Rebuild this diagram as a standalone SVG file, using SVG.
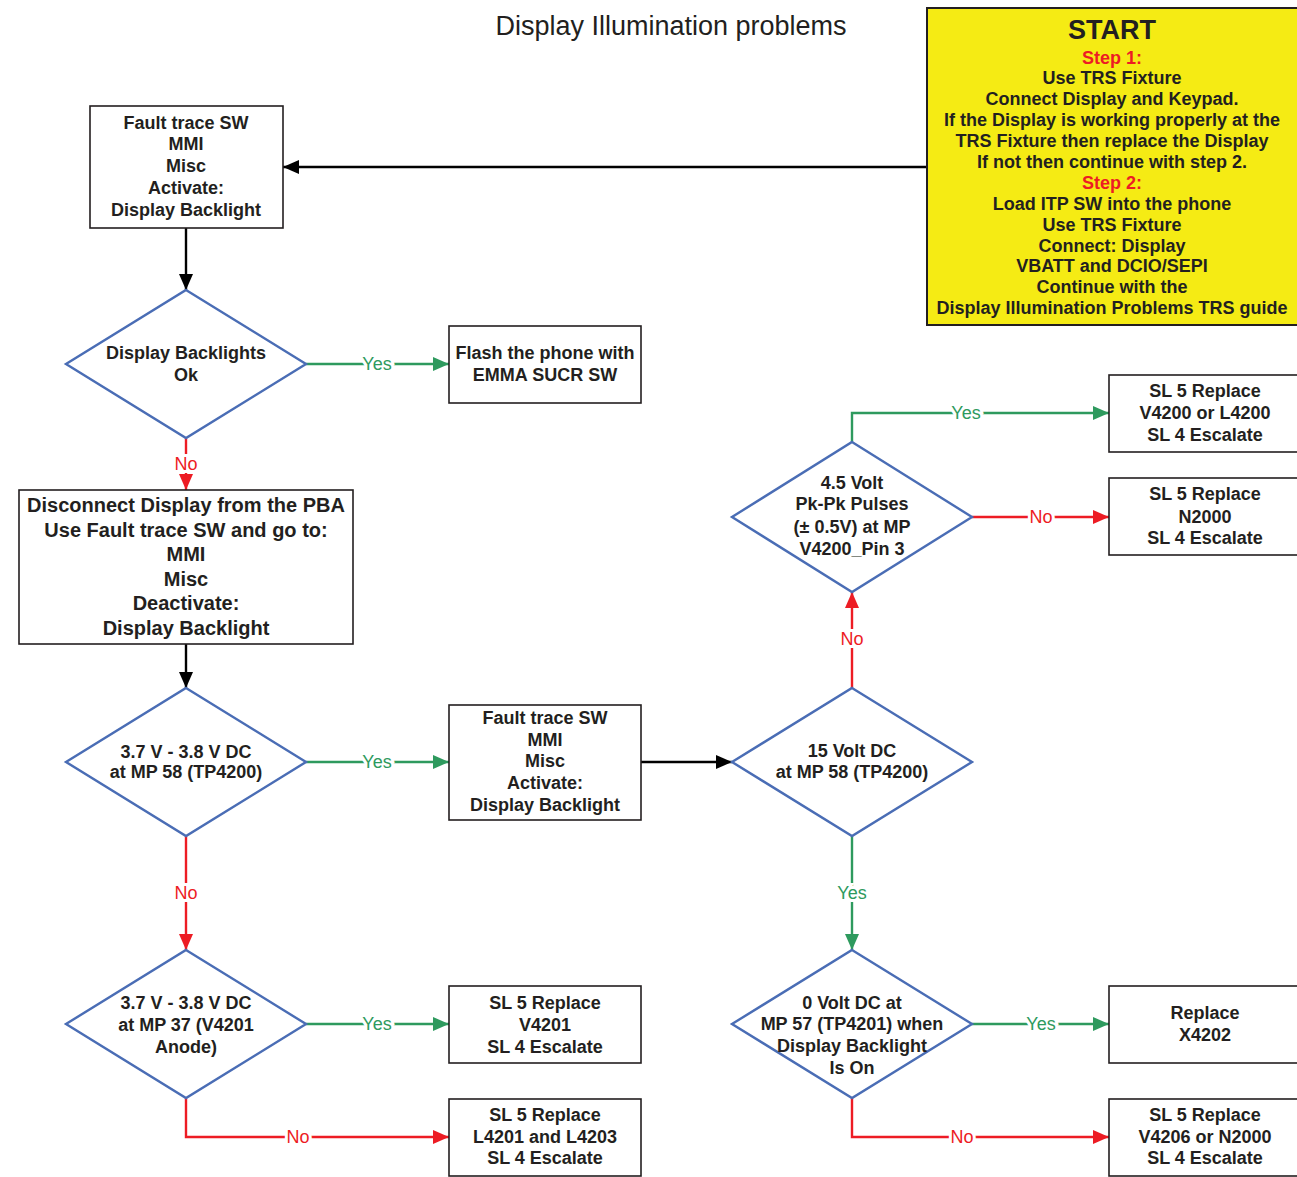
<svg xmlns="http://www.w3.org/2000/svg" width="1297" height="1177" viewBox="0 0 1297 1177">
<style>
text{font-family:"Liberation Sans",Arial,sans-serif;fill:#231f20;text-anchor:middle}
.t{font-size:18px;font-weight:bold}
.big{font-size:20px;font-weight:bold}
.box{fill:#fff;stroke:#231f20;stroke-width:1.6}
.dia{fill:#fff;stroke:#4a6db5;stroke-width:2.4}
.lk{fill:none;stroke:#000;stroke-width:2.4}
.lg{fill:none;stroke:#2e9a5e;stroke-width:2.4}
.lr{fill:none;stroke:#ed1c24;stroke-width:2.4}
.lbg{font-size:18px;fill:#2e9a5e;stroke:#fff;stroke-width:6;paint-order:stroke}
.lbr{font-size:18px;fill:#ed1c24;stroke:#fff;stroke-width:6;paint-order:stroke}
.red{fill:#ed1c24}
</style>
<defs>
<marker id="ak" viewBox="0 0 16 14" refX="16" refY="7" markerWidth="16" markerHeight="14" markerUnits="userSpaceOnUse" orient="auto"><path d="M0,0L16,7L0,14z" fill="#000"/></marker>
<marker id="ag" viewBox="0 0 16 14" refX="16" refY="7" markerWidth="16" markerHeight="14" markerUnits="userSpaceOnUse" orient="auto"><path d="M0,0L16,7L0,14z" fill="#2e9a5e"/></marker>
<marker id="ar" viewBox="0 0 16 14" refX="16" refY="7" markerWidth="16" markerHeight="14" markerUnits="userSpaceOnUse" orient="auto"><path d="M0,0L16,7L0,14z" fill="#ed1c24"/></marker>
</defs>
<rect width="1297" height="1177" fill="#fff"/>
<text x="671" y="35" style="font-size:27px">Display Illumination problems</text>

<g id="connectors">
<path class="lk" d="M927,167H283" marker-end="url(#ak)"/>
<path class="lk" d="M186,228V290" marker-end="url(#ak)"/>
<path class="lg" d="M306,364H449" marker-end="url(#ag)"/>
<path class="lr" d="M186,438V490" marker-end="url(#ar)"/>
<path class="lk" d="M186,644V688" marker-end="url(#ak)"/>
<path class="lg" d="M306,762H449" marker-end="url(#ag)"/>
<path class="lk" d="M641,762H732" marker-end="url(#ak)"/>
<path class="lr" d="M186,836V950" marker-end="url(#ar)"/>
<path class="lg" d="M306,1024H449" marker-end="url(#ag)"/>
<path class="lr" d="M186,1098V1137H449" marker-end="url(#ar)"/>
<path class="lr" d="M852,688V592" marker-end="url(#ar)"/>
<path class="lg" d="M852,442V413H1109" marker-end="url(#ag)"/>
<path class="lr" d="M972,517H1109" marker-end="url(#ar)"/>
<path class="lg" d="M852,836V950" marker-end="url(#ag)"/>
<path class="lg" d="M972,1024H1109" marker-end="url(#ag)"/>
<path class="lr" d="M852,1098V1137H1109" marker-end="url(#ar)"/>
<text class="lbg" x="377" y="370">Yes</text>
<text class="lbr" x="186" y="470">No</text>
<text class="lbg" x="377" y="768">Yes</text>
<text class="lbr" x="186" y="899">No</text>
<text class="lbg" x="377" y="1030">Yes</text>
<text class="lbr" x="298" y="1143">No</text>
<text class="lbr" x="852" y="645">No</text>
<text class="lbg" x="966" y="419">Yes</text>
<text class="lbr" x="1041" y="523">No</text>
<text class="lbg" x="852" y="899">Yes</text>
<text class="lbg" x="1041" y="1030">Yes</text>
<text class="lbr" x="962" y="1143">No</text>
</g>

<g id="start">
<rect x="927" y="8" width="372" height="317" fill="#f5eb14" stroke="#231f20" stroke-width="2"/>
<text x="1112" y="39" style="font-size:27px;font-weight:bold">START</text>
<text class="t" x="1112" y="63.5"><tspan class="red">Step 1:</tspan></text>
<text class="t" x="1112" y="84">Use TRS Fixture</text>
<text class="t" x="1112" y="105">Connect Display and Keypad.</text>
<text class="t" x="1112" y="126">If the Display is working properly at the</text>
<text class="t" x="1112" y="147">TRS Fixture then replace the Display</text>
<text class="t" x="1112" y="168">If not then continue with step 2.</text>
<text class="t" x="1112" y="189"><tspan class="red">Step 2:</tspan></text>
<text class="t" x="1112" y="210">Load ITP SW into the phone</text>
<text class="t" x="1112" y="231">Use TRS Fixture</text>
<text class="t" x="1112" y="252">Connect: Display</text>
<text class="t" x="1112" y="272">VBATT and DCIO/SEPI</text>
<text class="t" x="1112" y="293">Continue with the</text>
<text class="t" x="1112" y="313.5">Display Illumination Problems TRS guide</text>
</g>

<g id="ft1">
<rect class="box" x="90" y="106" width="193" height="122"/>
<text class="t" x="186" y="128.5">Fault trace SW</text>
<text class="t" x="186" y="150">MMI</text>
<text class="t" x="186" y="171.5">Misc</text>
<text class="t" x="186" y="193.5">Activate:</text>
<text class="t" x="186" y="215.5">Display Backlight</text>
</g>

<g id="d1">
<polygon class="dia" points="186,290 306,364 186,438 66,364"/>
<text class="t" x="186" y="359">Display Backlights</text>
<text class="t" x="186" y="381">Ok</text>
</g>

<g id="flash">
<rect class="box" x="449" y="326" width="192" height="77"/>
<text class="t" x="545" y="359">Flash the phone with</text>
<text class="t" x="545" y="381">EMMA SUCR SW</text>
</g>

<g id="disc">
<rect class="box" x="19" y="490" width="334" height="154"/>
<text class="big" x="186" y="512">Disconnect Display from the PBA</text>
<text class="big" x="186" y="537">Use Fault trace SW and go to:</text>
<text class="big" x="186" y="561">MMI</text>
<text class="big" x="186" y="586">Misc</text>
<text class="big" x="186" y="610">Deactivate:</text>
<text class="big" x="186" y="635">Display Backlight</text>
</g>

<g id="d2">
<polygon class="dia" points="186,688 306,762 186,836 66,762"/>
<text class="t" x="186" y="757.5">3.7 V - 3.8 V DC</text>
<text class="t" x="186" y="778">at MP 58 (TP4200)</text>
</g>

<g id="ft2">
<rect class="box" x="449" y="705" width="192" height="115"/>
<text class="t" x="545" y="723.5">Fault trace SW</text>
<text class="t" x="545" y="745.5">MMI</text>
<text class="t" x="545" y="767">Misc</text>
<text class="t" x="545" y="789">Activate:</text>
<text class="t" x="545" y="811">Display Backlight</text>
</g>

<g id="d15">
<polygon class="dia" points="852,688 972,762 852,836 732,762"/>
<text class="t" x="852" y="757">15 Volt DC</text>
<text class="t" x="852" y="778">at MP 58 (TP4200)</text>
</g>

<g id="d45">
<polygon class="dia" points="852,442 972,517 852,592 732,517"/>
<text class="t" x="852" y="488.5">4.5 Volt</text>
<text class="t" x="852" y="510">Pk-Pk Pulses</text>
<text class="t" x="852" y="532.5">(± 0.5V) at MP</text>
<text class="t" x="852" y="555">V4200_Pin 3</text>
</g>

<g id="r1">
<rect class="box" x="1109" y="375" width="192" height="77"/>
<text class="t" x="1205" y="397">SL 5 Replace</text>
<text class="t" x="1205" y="419">V4200 or L4200</text>
<text class="t" x="1205" y="441">SL 4 Escalate</text>
</g>

<g id="r2">
<rect class="box" x="1109" y="478" width="192" height="77"/>
<text class="t" x="1205" y="500">SL 5 Replace</text>
<text class="t" x="1205" y="522.5">N2000</text>
<text class="t" x="1205" y="544">SL 4 Escalate</text>
</g>

<g id="d37">
<polygon class="dia" points="186,950 306,1024 186,1098 66,1024"/>
<text class="t" x="186" y="1009">3.7 V - 3.8 V DC</text>
<text class="t" x="186" y="1031">at MP 37 (V4201</text>
<text class="t" x="186" y="1052.5">Anode)</text>
</g>

<g id="v4201">
<rect class="box" x="449" y="986" width="192" height="77"/>
<text class="t" x="545" y="1009">SL 5 Replace</text>
<text class="t" x="545" y="1031">V4201</text>
<text class="t" x="545" y="1052.5">SL 4 Escalate</text>
</g>

<g id="l4201">
<rect class="box" x="449" y="1099" width="192" height="77"/>
<text class="t" x="545" y="1121">SL 5 Replace</text>
<text class="t" x="545" y="1142.5">L4201 and L4203</text>
<text class="t" x="545" y="1164">SL 4 Escalate</text>
</g>

<g id="d0">
<polygon class="dia" points="852,950 972,1024 852,1098 732,1024"/>
<text class="t" x="852" y="1009">0 Volt DC at</text>
<text class="t" x="852" y="1030">MP 57 (TP4201) when</text>
<text class="t" x="852" y="1052">Display Backlight</text>
<text class="t" x="852" y="1073.5">Is On</text>
</g>

<g id="x4202">
<rect class="box" x="1109" y="986" width="192" height="77"/>
<text class="t" x="1205" y="1018.5">Replace</text>
<text class="t" x="1205" y="1041">X4202</text>
</g>

<g id="v4206">
<rect class="box" x="1109" y="1099" width="192" height="77"/>
<text class="t" x="1205" y="1121">SL 5 Replace</text>
<text class="t" x="1205" y="1142.5">V4206 or N2000</text>
<text class="t" x="1205" y="1164">SL 4 Escalate</text>
</g>
</svg>
